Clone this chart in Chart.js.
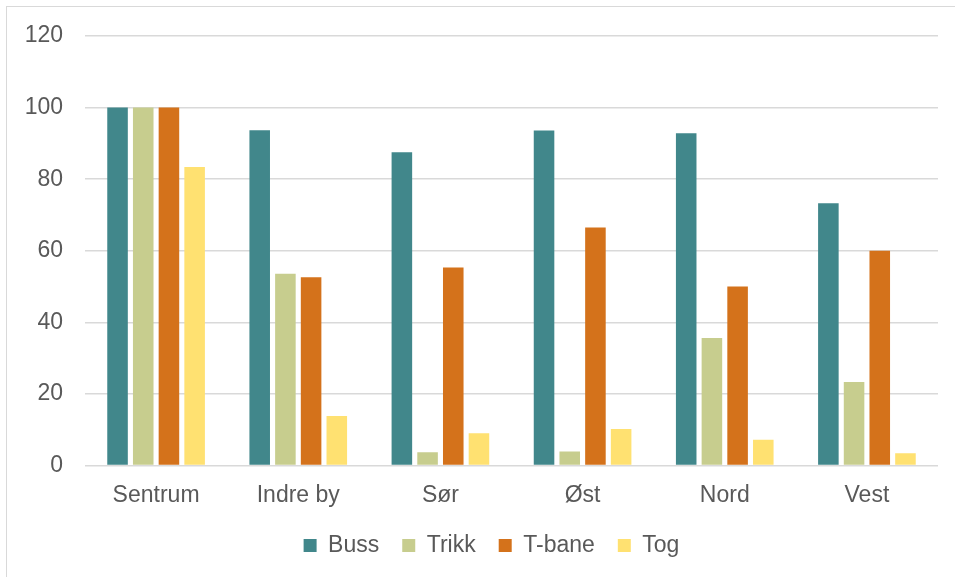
<!DOCTYPE html>
<html>
<head>
<meta charset="utf-8">
<script src="https://cdn.jsdelivr.net/npm/chart.js@4/dist/chart.umd.min.js"></script>
<style>
  html, body { margin: 0; padding: 0; background: #fff; overflow: hidden; }
  #frame { position: absolute; left: 6px; top: 6px; width: 1100px; height: 700px; border: 1px solid #d9d9d9; }
  #wrap { position: absolute; left: 0; top: 0; width: 958px; height: 567px; }
</style>
</head>
<body>
<div id="frame"></div>
<div id="wrap"><canvas id="chart"></canvas></div>
<script>
// Data
const areas = ['Sentrum', 'Indre by', 'Sør', 'Øst', 'Nord', 'Vest'];
const buss = [100, 93.7, 87.5, 93.6, 92.8, 73.3];
const trikk = [100, 53.6, 3.7, 3.9, 35.6, 23.3];
const tbane = [100, 52.6, 55.3, 66.5, 50.0, 60.0];
const tog = [83.4, 13.8, 9.0, 10.2, 7.2, 3.4];
const yTicks = [0, 20, 40, 60, 80, 100, 120];

const textColor = '#595959';
const gridColor = '#d9d9d9';
const fontFamily = '"Liberation Sans", Arial, sans-serif';

function series(label, data, color) {
    return {
        label: label,
        data: data,
        backgroundColor: color,
        borderWidth: 0,
        categoryPercentage: 0.723,
        barPercentage: 0.8
    };
}

const ctx = document.getElementById('chart').getContext('2d');
new Chart(ctx, {
    type: 'bar',
    data: {
        labels: areas,
        datasets: [
            series('Buss', buss, '#41878b'),
            series('Trikk', trikk, '#c7cd8e'),
            series('T-bane', tbane, '#d4721b'),
            series('Tog', tog, '#ffe171')
        ]
    },
    options: {
        responsive: true,
        maintainAspectRatio: false,
        animation: false,
        layout: { padding: { left: 25, top: 36, right: 0, bottom: 0 } },
        scales: {
            x: {
                grid: { display: false },
                border: { display: false },
                afterFit: s => { s.height = 45.5; },
                ticks: {
                    color: textColor,
                    padding: 4,
                    font: { family: fontFamily, size: 23, lineHeight: 1.565 }
                }
            },
            y: {
                min: 0,
                max: 120,
                afterBuildTicks: s => { s.ticks = yTicks.map(v => ({ value: v })); },
                afterFit: s => { s.width = 60; },
                grid: { color: gridColor, lineWidth: 1.5, drawTicks: false },
                border: { display: false },
                ticks: {
                    color: textColor,
                    padding: 22,
                    font: { family: fontFamily, size: 23 }
                }
            },
            // empty right-hand spacer so the plot ends where the reference does
            y2: {
                position: 'right',
                display: true,
                grid: { display: false },
                border: { display: false },
                ticks: { display: false },
                afterFit: s => { s.width = 20; }
            }
        },
        plugins: {
            tooltip: { enabled: false },
            legend: {
                position: 'bottom',
                labels: {
                    color: textColor,
                    boxWidth: 13,
                    boxHeight: 13,
                    padding: 23,
                    font: { family: fontFamily, size: 23 }
                }
            }
        }
    }
});
</script>
</body>
</html>
